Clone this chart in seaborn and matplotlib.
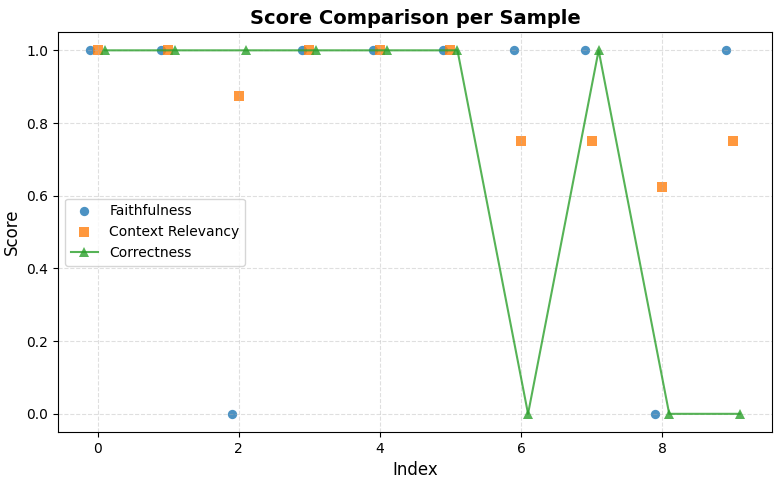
import numpy as np
import pandas as pd
import matplotlib
matplotlib.use("Agg")
import matplotlib.pyplot as plt
import seaborn as sns

index = np.arange(10)
faithfulness = [1, 1, 0, 1, 1, 1, 1, 1, 0, 1]
context_relevancy = [1, 1, 0.875, 1, 1, 1, 0.75, 0.75, 0.625, 0.75]
correctness = [1, 1, 1, 1, 1, 1, 0, 1, 0, 0]

df = pd.DataFrame({
    "idx": index,
    "faith": faithfulness,
    "ctx": context_relevancy,
    "corr": correctness,
})

plt.rcParams["font.family"] = ["DejaVu Sans"]
fig, ax = plt.subplots(figsize=(7.84, 4.8), dpi=100)

sns.scatterplot(x=df["idx"] - 0.1, y=df["faith"], ax=ax, label="Faithfulness",
                color="#1f77b4", marker="o", s=45, alpha=0.8, edgecolor=None, linewidth=0)
sns.scatterplot(x=df["idx"], y=df["ctx"], ax=ax, label="Context Relevancy",
                color="#ff7f0e", marker="s", s=45, alpha=0.8, edgecolor=None, linewidth=0)
sns.lineplot(x=df["idx"] + 0.1, y=df["corr"], ax=ax, label="Correctness",
             color="#2ca02c", marker="^", markersize=7, markeredgewidth=0,
             alpha=0.8, linewidth=1.5)

ax.set_xlabel("Index", fontsize=12)
ax.set_ylabel("Score", fontsize=12)
ax.set_title("Score Comparison per Sample", fontsize=14, fontweight="bold")
ax.grid(True, linestyle="--", alpha=0.4)
ax.legend(loc="center left")

fig.subplots_adjust(left=0.074, right=0.985, top=0.933, bottom=0.1)
plt.savefig("out.png", dpi=100)
